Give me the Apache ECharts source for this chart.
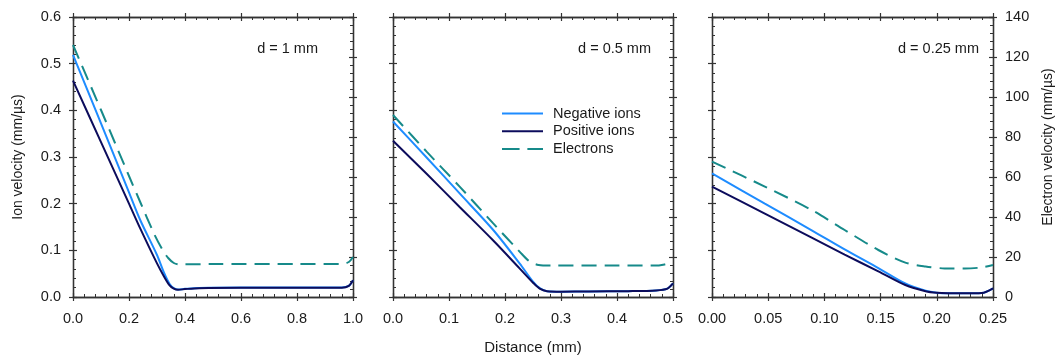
<!DOCTYPE html>
<html>
<head>
<meta charset="utf-8">
<script src="https://cdn.jsdelivr.net/npm/echarts@6/dist/echarts.min.js"></script>
<style>
html,body{margin:0;padding:0;background:#fff;}
#chart{width:1064px;height:359px;}
</style>
</head>
<body>
<div id="chart"></div>
<script>
// ---- Data (x in mm; ion velocity in mm/µs; electron velocity in mm/µs) ----
const panelLabels = ['d = 1 mm', 'd = 0.5 mm', 'd = 0.25 mm'];
const panelXMax = [1.0, 0.5, 0.25];
const panelXInterval = [0.2, 0.1, 0.05];
const panelXDecimals = [1, 1, 2];
const seriesNames = ['Negative ions', 'Positive ions', 'Electrons'];

const p1Neg = [[0,0.519],[0.1,0.372],[0.2,0.224],[0.24,0.165],[0.3,0.090],[0.325,0.052],[0.345,0.028],[0.36,0.019],[0.375,0.016],[0.4,0.0175],[0.45,0.0195],[0.6,0.0205],[0.8,0.0205],[0.96,0.0205],[0.985,0.024],[1.0,0.036]];
const p1Pos = [[0,0.4636],[0.1,0.332],[0.2,0.200],[0.24,0.147],[0.3,0.072],[0.325,0.044],[0.345,0.025],[0.36,0.018],[0.375,0.0155],[0.4,0.017],[0.45,0.019],[0.6,0.020],[0.8,0.020],[0.96,0.020],[0.985,0.024],[1.0,0.036]];
const p1Ele = [[0,126],[0.1,93.5],[0.2,60.5],[0.24,47.5],[0.29,31.5],[0.32,23.5],[0.34,19.5],[0.36,17.0],[0.38,16.3],[0.5,16.5],[0.8,16.5],[0.96,16.5],[0.985,17.5],[1.0,20]];

const p2Neg = [[0,0.376],[0.06,0.299],[0.119,0.222],[0.179,0.1436],[0.226,0.0721],[0.25,0.033],[0.262,0.019],[0.275,0.0125],[0.3,0.0115],[0.35,0.012],[0.42,0.0125],[0.47,0.014],[0.49,0.018],[0.5,0.029]];
const p2Pos = [[0,0.335],[0.06,0.264],[0.119,0.193],[0.179,0.121],[0.226,0.0614],[0.25,0.0307],[0.262,0.018],[0.275,0.0125],[0.3,0.0115],[0.35,0.012],[0.42,0.0125],[0.47,0.014],[0.49,0.018],[0.5,0.029]];
const p2Ele = [[0,91],[0.06,72.7],[0.119,55.2],[0.179,36.8],[0.226,22.7],[0.244,17.7],[0.26,16.0],[0.28,15.7],[0.4,15.7],[0.465,15.7],[0.485,16.3],[0.5,17.7]];

const p3Neg = [[0,0.265],[0.047,0.200],[0.0887,0.143],[0.118,0.102],[0.148,0.062],[0.172,0.029],[0.19,0.0136],[0.2,0.0093],[0.21,0.008],[0.225,0.0079],[0.24,0.0086],[0.25,0.0186]];
const p3Pos = [[0,0.2364],[0.047,0.1786],[0.0887,0.127],[0.118,0.0907],[0.148,0.055],[0.172,0.0257],[0.19,0.0125],[0.2,0.0090],[0.21,0.008],[0.225,0.0079],[0.24,0.0086],[0.25,0.0186]];
const p3Ele = [[0,67.7],[0.047,55.2],[0.0887,43.5],[0.118,33.5],[0.148,23.5],[0.172,17.2],[0.19,15.2],[0.207,14.3],[0.225,14.2],[0.24,14.8],[0.25,16.0]];

const ionAxis = {min: 0, max: 0.6, interval: 0.1};
const eleAxis = {min: 0, max: 140, interval: 20};

// ---- Styling / layout ----
const FONT = 'Liberation Sans, Arial, sans-serif';
const AXIS_COLOR = '#333';
const TEXT_COLOR = '#1a1a1a';
const COLORS = {neg: '#1e8cff', pos: '#0c0c5c', ele: '#168a8a'};
const grids = [
  {left: 73, top: 17, width: 280, height: 280},
  {left: 393, top: 17, width: 280, height: 280},
  {left: 712, top: 17, width: 281, height: 280}
];
const panelData = [[p1Neg, p1Pos, p1Ele], [p2Neg, p2Pos, p2Ele], [p3Neg, p3Pos, p3Ele]];

const xAxes = [], yAxes = [], series = [];

function axisBase(extra) {
  return Object.assign({
    type: 'value',
    axisLine: {show: true, onZero: false, lineStyle: {color: AXIS_COLOR, width: 1.3}},
    splitLine: {show: false},
    minorSplitLine: {show: false}
  }, extra);
}

grids.forEach((g, gi) => {
  const xr = {min: 0, max: panelXMax[gi], interval: panelXInterval[gi]};
  const dec = panelXDecimals[gi];
  ['bottom', 'top'].forEach(pos => {
    xAxes.push(axisBase(Object.assign({
      gridIndex: gi, position: pos,
      axisTick: {show: true, inside: false, length: 4, lineStyle: {color: AXIS_COLOR, width: 1.2}},
      minorTick: {show: false},
      axisLabel: {
        show: pos === 'bottom', margin: 14, color: TEXT_COLOR, fontFamily: FONT, fontSize: 14.5,
        formatter: v => v.toFixed(dec), showMinLabel: true, showMaxLabel: true, hideOverlap: false
      }
    }, xr)));
    xAxes.push(axisBase(Object.assign({
      gridIndex: gi, position: pos,
      axisTick: {show: true, inside: true, length: 4, lineStyle: {color: AXIS_COLOR, width: 1.2}},
      minorTick: {show: true, splitNumber: 5, length: 3, lineStyle: {color: AXIS_COLOR, width: 1}},
      axisLabel: {show: false}
    }, xr)));
  });
  [['left', ionAxis, gi === 0, v => v.toFixed(1)], ['right', eleAxis, gi === 2, v => String(v)]].forEach(([pos, r, showLbl, fmt]) => {
    yAxes.push(axisBase(Object.assign({
      gridIndex: gi, position: pos,
      axisTick: {show: true, inside: false, length: 4, lineStyle: {color: AXIS_COLOR, width: 1.2}},
      minorTick: {show: false},
      axisLabel: {show: showLbl, margin: 12, color: TEXT_COLOR, fontFamily: FONT, fontSize: 14.5, formatter: fmt}
    }, r)));
    yAxes.push(axisBase(Object.assign({
      gridIndex: gi, position: pos,
      axisTick: {show: true, inside: true, length: 4, lineStyle: {color: AXIS_COLOR, width: 1.2}},
      minorTick: {show: true, splitNumber: 5, length: 3, lineStyle: {color: AXIS_COLOR, width: 1}},
      axisLabel: {show: false}
    }, r)));
  });

  const [neg, posI, ele] = panelData[gi];
  const xIdx = gi * 4;
  const ionIdx = gi * 4;
  const eleIdx = gi * 4 + 2;
  series.push({
    name: seriesNames[2], type: 'line', xAxisIndex: xIdx, yAxisIndex: eleIdx, data: ele,
    showSymbol: false, symbol: 'none', smooth: 0.3, z: 2,
    lineStyle: {color: COLORS.ele, width: 2, type: [15, 8]}, itemStyle: {color: COLORS.ele}
  });
  series.push({
    name: seriesNames[0], type: 'line', xAxisIndex: xIdx, yAxisIndex: ionIdx, data: neg,
    showSymbol: false, symbol: 'none', smooth: 0.3, z: 3,
    lineStyle: {color: COLORS.neg, width: 2}, itemStyle: {color: COLORS.neg}
  });
  series.push({
    name: seriesNames[1], type: 'line', xAxisIndex: xIdx, yAxisIndex: ionIdx, data: posI,
    showSymbol: false, symbol: 'none', smooth: 0.3, z: 4,
    lineStyle: {color: COLORS.pos, width: 2}, itemStyle: {color: COLORS.pos}
  });
});

const labelRight = [318, 651, 979];
const graphics = panelLabels.map((t, i) => ({
  type: 'text', x: labelRight[i], y: 49,
  style: {text: t, fill: TEXT_COLOR, font: '14.5px ' + FONT, textAlign: 'right', textVerticalAlign: 'middle'}
}));
graphics.push({
  type: 'text', x: 18, y: 157, rotation: Math.PI / 2,
  style: {text: 'Ion velocity (mm/µs)', fill: TEXT_COLOR, font: '14px ' + FONT, textAlign: 'center', textVerticalAlign: 'middle'}
});
graphics.push({
  type: 'text', x: 1048, y: 147, rotation: Math.PI / 2,
  style: {text: 'Electron velocity (mm/µs)', fill: TEXT_COLOR, font: '14px ' + FONT, textAlign: 'center', textVerticalAlign: 'middle'}
});
graphics.push({
  type: 'text', x: 533, y: 348,
  style: {text: 'Distance (mm)', fill: TEXT_COLOR, font: '15px ' + FONT, textAlign: 'center', textVerticalAlign: 'middle'}
});

const SOLID_ICON = 'path://M0,0H42V2H0Z';
const DASH_ICON = 'path://M0,0H18V2H0Z M26,0H42V2H26Z';

const option = {
  animation: false,
  backgroundColor: '#fff',
  grid: grids.map(g => Object.assign({containLabel: false}, g)),
  xAxis: xAxes,
  yAxis: yAxes,
  legend: {
    data: [
      {name: seriesNames[0], icon: SOLID_ICON},
      {name: seriesNames[1], icon: SOLID_ICON},
      {name: seriesNames[2], icon: DASH_ICON}
    ],
    orient: 'vertical',
    left: 497, top: 101,
    padding: 5,
    itemWidth: 41, itemHeight: 2, itemGap: 2.7,
    textStyle: {color: TEXT_COLOR, fontFamily: FONT, fontSize: 14.5, padding: [0, 0, 0, 5]},
    selectedMode: false
  },
  graphic: graphics,
  series: series
};

const chart = echarts.init(document.getElementById('chart'), null, {renderer: 'canvas'});
chart.setOption(option);
</script>
</body>
</html>
